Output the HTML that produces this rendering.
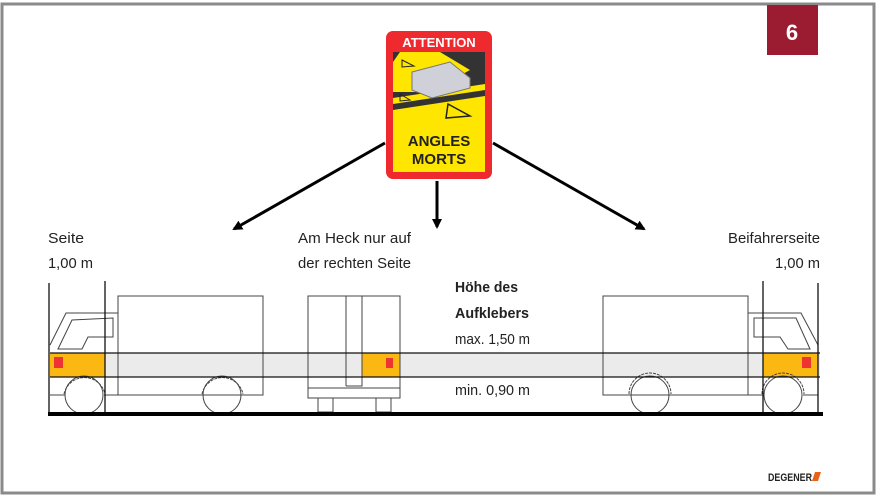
<!DOCTYPE html>
<html><head><meta charset="utf-8"><style>
body{margin:0;width:877px;height:497px;background:#fff;overflow:hidden}
svg text{font-family:"Liberation Sans Narrow","Liberation Sans",sans-serif}
</style></head><body>
<svg width="877" height="497" viewBox="0 0 877 497" xmlns="http://www.w3.org/2000/svg">
<defs><marker id="ah" markerWidth="10" markerHeight="10" refX="8" refY="5" orient="auto" markerUnits="userSpaceOnUse"><path d="M0,0 L10,5 L0,10 z" fill="#000"/></marker></defs>
<rect x="2" y="4" width="872" height="489" fill="#fff" stroke="#8a8a8a" stroke-width="3"/>
<rect x="767" y="5" width="51" height="50" fill="#9b1c31"/>
<text x="792" y="40" font-size="22" font-weight="bold" fill="#fff" text-anchor="middle" font-family="Liberation Sans">6</text>
<!-- sign -->
<rect x="386" y="31" width="106" height="148" rx="7" fill="#ee2a2f"/>
<text x="439" y="47" font-size="13" font-weight="bold" fill="#fff" text-anchor="middle" font-family="Liberation Sans">ATTENTION</text>
<rect x="393" y="52" width="92" height="120" fill="#ffe600"/>
<polygon points="393,52 485,52 485,96 393,110" fill="#333"/>
<polygon points="400,52 440,52 470,70 430,92 393,92 393,62" fill="#ffe600"/>
<polygon points="393,98 485,84 485,90 393,104" fill="#ffe600"/>
<polygon points="412,72 450,62 470,78 470,88 432,98 412,90" fill="#d0d0d8" stroke="#777"/>
<polygon points="448,104 470,116 446,118" fill="none" stroke="#222" stroke-width="1.5"/>
<polygon points="402,60 414,66 402,67" fill="none" stroke="#222"/>
<polygon points="400,94 410,100 400,101" fill="none" stroke="#222"/>
<text x="439" y="146" font-size="15" font-weight="bold" fill="#222" text-anchor="middle" font-family="Liberation Sans">ANGLES</text>
<text x="439" y="164" font-size="15" font-weight="bold" fill="#222" text-anchor="middle" font-family="Liberation Sans">MORTS</text>
<!-- arrows -->
<g stroke="#000" stroke-width="3" marker-end="url(#ah)">
<line x1="385" y1="143" x2="234" y2="229"/>
<line x1="437" y1="181" x2="437" y2="227"/>
<line x1="493" y1="143" x2="644" y2="229"/>
</g>
<!-- labels -->
<g font-size="15" fill="#222">
<text x="48" y="243" textLength="36" lengthAdjust="spacingAndGlyphs">Seite</text>
<text x="48" y="268" textLength="45" lengthAdjust="spacingAndGlyphs">1,00 m</text>
<text x="298" y="243" textLength="113" lengthAdjust="spacingAndGlyphs">Am Heck nur auf</text>
<text x="298" y="268" textLength="113" lengthAdjust="spacingAndGlyphs">der rechten Seite</text>
<text x="728" y="243" textLength="92" lengthAdjust="spacingAndGlyphs">Beifahrerseite</text>
<text x="775" y="268" textLength="45" lengthAdjust="spacingAndGlyphs">1,00 m</text>
<text x="455" y="292" font-weight="bold" textLength="63" lengthAdjust="spacingAndGlyphs">Höhe des</text>
<text x="455" y="318" font-weight="bold" textLength="74" lengthAdjust="spacingAndGlyphs">Aufklebers</text>
<text x="455" y="344" textLength="75" lengthAdjust="spacingAndGlyphs">max. 1,50 m</text>
<text x="455" y="395" textLength="75" lengthAdjust="spacingAndGlyphs">min. 0,90 m</text>
</g>
<!-- band -->
<rect x="50" y="353" width="770" height="24" fill="#ebebeb"/>
<rect x="50" y="353" width="55" height="24" fill="#fbb812"/>
<rect x="763" y="353" width="55" height="24" fill="#fbb812"/>
<rect x="362" y="353" width="38" height="24" fill="#fbb812"/>
<g fill="none" stroke="#444" stroke-width="1">
<rect x="118" y="296" width="145" height="99"/>
<path d="M50,395 L65,395 M104,395 L202,395 M242,395 L263,395"/>
<path d="M50,345 L66,313 L118,313"/>
<path d="M58,349 L72,320 L113,318 L113,337 L88,337 L82,349 Z"/>
<circle cx="84" cy="395" r="19"/><circle cx="222" cy="395" r="19"/>
<path d="M64,394 A21,21 0 0 1 105,394 M202,394 A21,21 0 0 1 243,394" stroke-dasharray="3,1"/>
<rect x="603" y="296" width="145" height="99"/>
<path d="M603,395 L630,395 M670,395 L763,395 M803,395 L818,395"/>
<path d="M818,345 L801,313 L748,313"/>
<path d="M810,349 L796,318 L754,318 L754,337 L780,337 L788,349 Z"/>
<circle cx="650" cy="395" r="19"/><circle cx="783" cy="395" r="19"/>
<path d="M629,394 A21,21 0 0 1 671,394 M762,394 A21,21 0 0 1 804,394" stroke-dasharray="3,1"/>
<rect x="308" y="296" width="92" height="92"/>
<path d="M346,296 L346,386 M362,296 L362,386 L346,386"/>
<rect x="308" y="388" width="92" height="10"/>
<rect x="318" y="398" width="15" height="14"/><rect x="376" y="398" width="15" height="14"/>
</g>
<g stroke="#111" stroke-width="1.3">
<line x1="50" y1="353" x2="820" y2="353"/>
<line x1="50" y1="377" x2="820" y2="377"/>
<line x1="49" y1="283" x2="49" y2="413"/>
<line x1="105" y1="281" x2="105" y2="413"/>
<line x1="763" y1="281" x2="763" y2="413"/>
<line x1="818" y1="283" x2="818" y2="413"/>
</g>
<rect x="386" y="358" width="7" height="10" fill="#e33"/>
<rect x="54" y="357" width="9" height="11" fill="#e33"/>
<rect x="802" y="357" width="9" height="11" fill="#e33"/>
<rect x="48" y="412" width="775" height="4" fill="#000"/>
<text x="768" y="481" font-size="11" font-weight="bold" fill="#222" font-family="Liberation Sans" textLength="44" lengthAdjust="spacingAndGlyphs">DEGENER</text>
<polygon points="815,472 821,472 818,481 812,481" fill="#e8631a"/>
</svg>
</body></html>
